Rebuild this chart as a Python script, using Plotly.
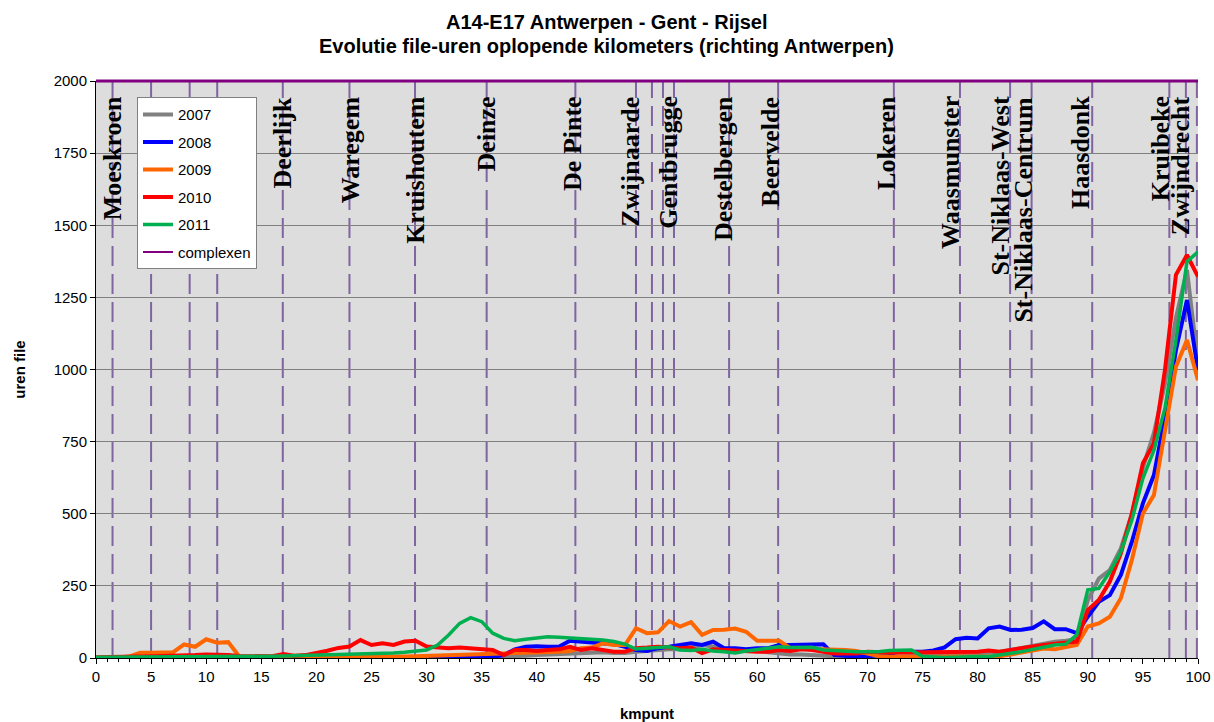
import plotly.graph_objects as go

# kilometre points along the route (richting Antwerpen)
km = list(range(0, 101))

# file-uren per year
uren_2007 = [0, 0, 0, 0, 0, 0, 0, 0, 0, 0, 0, 0, 0, 0, 0, 0, 0, 0, 0, 0,
             0, 0, 0, 0, 0, 0, 0, 0, 1, 1, 1, 2, 2, 2, 3, 3, 3, 5, 5, 8,
             10, 12, 14, 16, 18, 20, 20, 17, 17, 22, 25, 28, 30, 30, 35, 45, 40, 30, 25, 25,
             25, 20, 15, 12, 12, 10, 5, 3, 2, 2, 2, 3, 3, 3, 3, 5, 5, 8, 10, 12,
             15, 18, 22, 28, 35, 45, 52, 56, 60, 65, 200, 275, 305, 380, 500, 660, 780, 950, 1180, 1345,
             1020]
uren_2008 = [0, 0, 0, 0, 0, 0, 0, 0, 0, 1, 1, 1, 0, 0, 0, 0, 0, 0, 0, 0,
             0, 0, 0, 1, 1, 1, 2, 2, 2, 3, 3, 4, 4, 5, 5, 5, 4, 10, 30, 39,
             41, 39, 39, 60, 57, 54, 51, 48, 39, 28, 24, 34, 39, 45, 51, 45, 57, 34, 34, 30,
             34, 34, 45, 45, 46, 48, 48, 10, 7, 5, 5, 10, 16, 22, 22, 22, 26, 37, 65, 70,
             68, 103, 109, 97, 98, 104, 127, 100, 100, 86, 143, 195, 218, 288, 403, 536, 634, 836, 1067, 1241,
             998]
uren_2009 = [0, 0, 2, 5, 18, 18, 19, 20, 47, 39, 65, 53, 55, 5, 2, 2, 2, 2, 2, 3,
             3, 3, 3, 4, 4, 4, 4, 5, 5, 6, 7, 8, 9, 10, 11, 12, 13, 15, 17, 18,
             20, 21, 22, 24, 34, 36, 51, 45, 45, 103, 86, 89, 128, 109, 124, 80, 97, 98, 102, 91,
             60, 60, 60, 34, 33, 33, 30, 30, 28, 24, 16, 7, 5, 4, 4, 4, 4, 5, 5, 5,
             5, 5, 6, 12, 20, 26, 33, 30, 39, 45, 109, 120, 143, 207, 340, 501, 565, 790, 1010, 1102,
             963]
uren_2010 = [3, 3, 4, 5, 6, 6, 7, 7, 8, 10, 12, 12, 10, 7, 7, 6, 6, 14, 8, 10,
             16, 25, 35, 40, 62, 45, 51, 45, 57, 60, 40, 36, 34, 36, 34, 30, 28, 10, 28, 28,
             24, 28, 30, 39, 28, 34, 28, 22, 22, 34, 36, 39, 36, 34, 36, 17, 30, 28, 24, 22,
             22, 22, 28, 24, 30, 28, 22, 16, 16, 16, 22, 19, 19, 19, 19, 22, 20, 22, 22, 22,
             22, 26, 22, 28, 35, 40, 45, 48, 51, 57, 166, 201, 265, 363, 501, 675, 744, 998, 1328, 1397,
             1322]
uren_2011 = [3, 3, 3, 3, 4, 4, 4, 4, 5, 5, 5, 5, 5, 5, 5, 5, 6, 7, 8, 9,
             10, 10, 10, 11, 12, 13, 15, 17, 20, 24, 28, 45, 80, 120, 140, 126, 86, 68, 60, 65,
             68, 74, 72, 70, 66, 65, 62, 57, 48, 31, 34, 39, 39, 28, 26, 30, 24, 22, 17, 24,
             28, 34, 39, 36, 36, 37, 28, 26, 22, 22, 22, 22, 26, 28, 28, 5, 2, 2, 3, 5,
             5, 5, 10, 16, 22, 30, 39, 45, 48, 80, 236, 241, 299, 368, 478, 623, 720, 866, 1102, 1374,
             1408]

years = ["2007", "2008", "2009", "2010", "2011"]
series = [uren_2007, uren_2008, uren_2009, uren_2010, uren_2011]
colors = ["#808080", "#0000FF", "#FF6600", "#FF0000", "#00B050"]

# interchanges ("complexen") and their names
complex_km = [1.5, 5.0, 8.5, 11.0, 16.95, 23.0, 28.95, 35.45, 43.5, 49.0, 50.45,
              51.45, 52.45, 57.45, 61.9, 72.4, 78.4, 82.95, 84.9, 90.4, 97.4, 98.9, 99.9]
place_names = ["Moeskroen", "Deerlijk", "Waregem", "Kruishoutem", "Deinze", "De Pinte",
               "Zwijnaarde", "Gentbrugge", "Destelbergen", "Beervelde", "Lokeren",
               "Waasmunster", "St-Niklaas-West", "St-Niklaas-Centrum", "Haasdonk",
               "Kruibeke", "Zwijndrecht"]
place_km = [1.45, 16.9, 23.1, 29.0, 35.45, 43.3, 48.5, 52.0, 57.0, 61.2, 71.75,
            77.6, 82.1, 84.15, 89.4, 96.6, 98.4]

title_lines = ["A14-E17 Antwerpen - Gent - Rijsel",
               "Evolutie file-uren oplopende kilometers (richting Antwerpen)"]

fig = go.Figure()

for yr, vals, col in zip(years, series, colors):
    fig.add_trace(go.Scatter(
        x=km, y=vals, mode="lines", name=yr, legendgroup=yr,
        line=dict(color=col, width=3.5 if yr == "2011" else 4),
    ))

# legend entry for the interchange markers
fig.add_trace(go.Scatter(
    x=[None], y=[None], mode="lines", name="complexen", legendgroup="complexen",
    line=dict(color="#800080", width=2),
))

shapes = []
for k in complex_km:
    shapes.append(dict(type="line", xref="x", yref="paper", x0=k, x1=k, y0=0, y1=1,
                       layer="between",
                       line=dict(color="#8064A2", width=2, dash="20px,8px")))
# purple top border of the plot area
shapes.append(dict(type="line", xref="paper", yref="paper", x0=0, x1=1, y0=1, y1=1,
                   line=dict(color="#800080", width=3)))

annotations = []
for name, k in zip(place_names, place_km):
    annotations.append(dict(
        x=k, xref="x", y=0.977, yref="paper", text=name, showarrow=False,
        textangle=-90, xanchor="center", yanchor="top",
        font=dict(family="Liberation Serif, Times New Roman, serif", size=26,
                  color="black", weight="bold"),
    ))

# two-line chart title, centred on the page
for line_text, ypos in zip(title_lines, [1.102, 1.060]):
    annotations.append(dict(
        x=0.4637, xref="paper", y=ypos, yref="paper", text="<b>" + line_text + "</b>",
        showarrow=False, xanchor="center", yanchor="middle",
        font=dict(family="Liberation Sans, Arial, sans-serif", size=20, color="black"),
    ))

fig.update_layout(
    width=1214, height=722,
    margin=dict(l=96, r=16, t=81, b=64),
    paper_bgcolor="white",
    plot_bgcolor="#DDDDDD",
    font=dict(family="Liberation Sans, Arial, sans-serif", size=15, color="black"),
    showlegend=True,
    legend=dict(
        x=0.0372, y=0.972, xanchor="left", yanchor="top",
        bgcolor="white", bordercolor="#808080", borderwidth=1,
        font=dict(family="Liberation Sans, Arial, sans-serif", size=15, color="black"),
        tracegroupgap=5, itemwidth=30,
    ),
    shapes=shapes,
    annotations=annotations,
)

fig.update_xaxes(
    range=[0, 100], dtick=5, tick0=0, showgrid=False, zeroline=False,
    showline=True, linecolor="black", linewidth=1, automargin=False,
    ticks="outside", ticklen=5, tickcolor="black",
    minor=dict(dtick=1, ticks="outside", ticklen=3, tickcolor="black", showgrid=False),
    title=dict(text="<b>kmpunt</b>", font=dict(size=15), standoff=24),
    tickfont=dict(size=15),
)
fig.update_yaxes(
    range=[0, 2000], dtick=250, tick0=0, showgrid=True, gridcolor="#808080", gridwidth=1,
    zeroline=False, showline=True, linecolor="black", linewidth=1, automargin=False,
    ticks="outside", ticklen=5, tickcolor="black",
    title=dict(text="<b>uren file</b>", font=dict(size=15), standoff=24),
    tickfont=dict(size=15),
)

fig.write_html("out.html")
